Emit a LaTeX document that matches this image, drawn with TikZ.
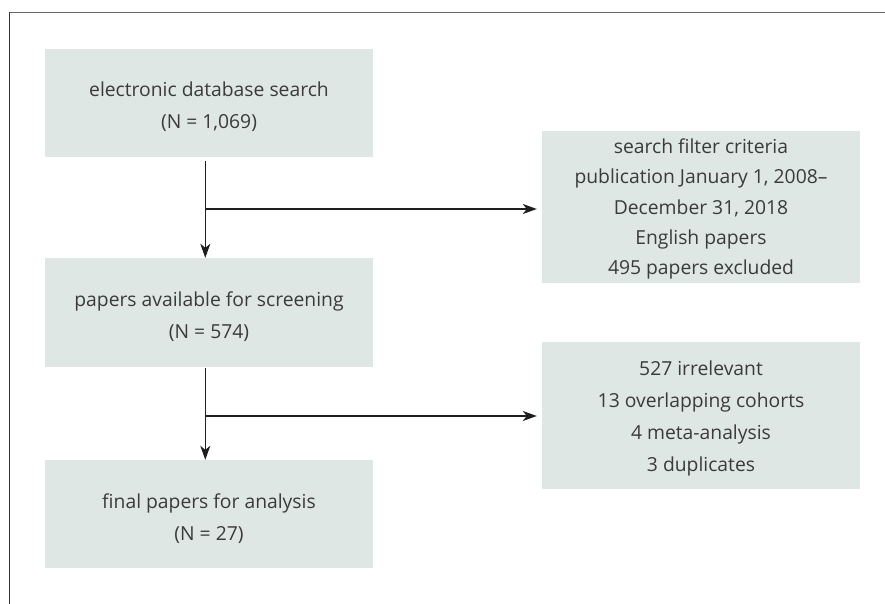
\documentclass[tikz,border=0pt]{standalone}
\usepackage{fontspec}
\setmainfont{Open Sans}
\usetikzlibrary{arrows.meta}
\definecolor{boxc}{HTML}{DFE7E5}
\definecolor{txtc}{HTML}{3A3A3A}
\definecolor{framel}{HTML}{333333}
\definecolor{framet}{HTML}{666666}
\definecolor{arrc}{HTML}{1E1E1E}
\tikzset{
  flowbox/.style={fill=boxc, draw=none, inner sep=0pt, align=center, text=txtc,
    font=\fontsize{19.3}{32}\selectfont, text height=56.5pt, text depth=4.5pt},
  sidebox/.style={flowbox, font=\fontsize{19.3}{30.2}\selectfont, text height=139.3pt, text depth=4.5pt},
  sidebox2/.style={flowbox, font=\fontsize{19.3}{31.7}\selectfont, text height=115.6pt, text depth=4.5pt},
  flowarr/.style={draw=arrc, line width=1.1pt, -{Stealth[length=14pt,width=10pt,inset=4pt]}}
}
\begin{document}
\begin{tikzpicture}[x=1pt,y=-1pt]
\useasboundingbox (0,0) rectangle (885,604);
\draw[framet, line width=1.3pt] (9.5,12.5) -- (885,12.5);
\draw[framel, line width=1.3pt] (9.5,604) -- (9.5,12.5);

\node[flowbox, minimum width=328pt, minimum height=108pt] (b1) at (209,103)
  {electronic database search\\(N = 1,069)};
\node[flowbox, minimum width=328pt, minimum height=109pt] (b2) at (209,312.5)
  {papers available for screening\\(N = 574)};
\node[flowbox, minimum width=328pt, minimum height=108pt] (b3) at (209,514)
  {final papers for analysis\\(N = 27)};
\node[sidebox, minimum width=318pt, minimum height=152pt] (r1) at (701,207)
  {search filter criteria\\publication January 1, 2008–\\December 31, 2018\\English papers\\495 papers excluded};
\node[sidebox2, minimum width=318pt, minimum height=147pt] (r2) at (701,415.5)
  {527 irrelevant\\13 overlapping cohorts\\4 meta-analysis\\3 duplicates};

\coordinate (j1) at (205.3,209);
\coordinate (j2) at (205.3,416);
\coordinate (s1) at (205.3,161);
\coordinate (s2) at (205.3,368);

\draw[flowarr] (s1) -- (b2.north -| s1);
\draw[flowarr, shorten >=5pt] (j1) -- (j1 -| r1.west);
\draw[flowarr] (s2) -- (b3.north -| s2);
\draw[flowarr, shorten >=5pt] (j2) -- (j2 -| r2.west);
\end{tikzpicture}
\end{document}
